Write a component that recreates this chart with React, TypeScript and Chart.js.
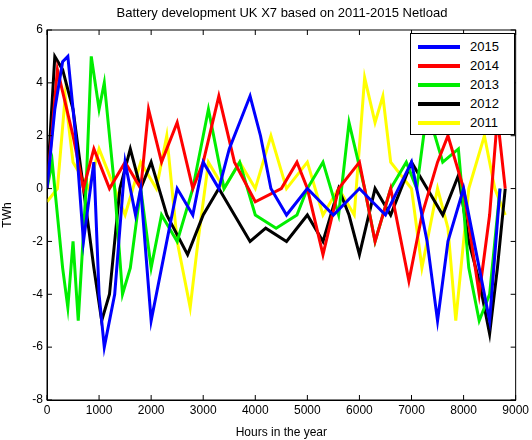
import React, { useEffect, useRef } from "react";
import { Chart, registerables } from "chart.js";
Chart.register(...registerables);

const labels = ["2015", "2014", "2013", "2012", "2011"];
const colors = ["#0000ff", "#ff0000", "#00ee00", "#000000", "#ffff00"];
const xTicks = [0, 1000, 2000, 3000, 4000, 5000, 6000, 7000, 8000, 9000];

const h2015 = [0,150,300,400,550,700,900,1000,1100,1300,1500,1700,1800,2000,2200,2500,2800,3000,3300,3500,3900,4100,4300,4600,5000,5500,6000,6500,7000,7300,7500,7700,8000,8300,8500,8700];
const v2015 = [0,3,4.8,5,2,-2,1,-4,-6,-4,1,-1,0,-5,-3,0,-1,1,0,1.5,3.5,2,0,-1,0,-1,0,-1,1,-2,-5,-2,0,-3,-5,0];
const h2014 = [0,200,500,700,900,1200,1500,1800,1950,2200,2500,2800,3000,3300,3600,4000,4500,4800,5000,5300,5600,6000,6300,6600,6950,7200,7500,7700,8000,8300,8500,8650,8800];
const v2014 = [0,4.5,2,0,1.5,0,1,0,3,1,2.5,0,1,3.5,1,-0.5,0,1,0,-2.5,0,1,-2,0,-3.5,-1,1,2,0,-4,-1,2.7,0];
const h2013 = [0,100,300,400,500,600,750,850,1000,1100,1300,1450,1600,1800,2000,2200,2500,2800,3000,3100,3400,3700,4000,4400,4800,5000,5300,5600,5800,6100,6300,6600,6900,7100,7300,7600,7900,8100,8300,8500,8700];
const v2013 = [0,1,-3,-4.5,-2,-5,0,5,3,4,0,-4,-3,0,-3,-1,-2,0,2,3,0,1,-1,-1.5,-1,0,1,-1,2.5,0,-2,0,1,0,3,1,1.5,-3,-5,-4,0];
const h2012 = [0,150,300,500,700,900,1050,1200,1400,1600,1800,2000,2300,2700,3000,3300,3600,3900,4200,4600,5000,5300,5600,5800,6000,6300,6600,7000,7300,7600,7900,8100,8300,8500,8650,8800];
const v2012 = [0,5,4.5,3,0,-3,-5,-4,0,1.5,0,1,-1,-2.5,-1,0,-1,-2,-1.5,-2,-1,-2,0,-1,-2.5,0,-1,1,0,-1,0.5,-2,-3.5,-5.5,-3,0];
const h2011 = [0,200,350,500,800,1000,1300,1500,1800,2100,2300,2500,2750,2900,3100,3400,3700,4000,4300,4600,5000,5300,5600,5900,6100,6300,6450,6600,7000,7200,7500,7700,7850,8100,8400,8600,8800];
const v2011 = [-0.5,0,3.5,1,0,1.5,0,-1,1,0,2,-2,-4.5,-2,1,0,1,0,2,0,1,-1,0,-1,4.2,2.5,3.5,1,0,-3,0,-1.5,-5,0,2,0,-1];

const hs = [h2015, h2014, h2013, h2012, h2011];
const vs = [v2015, v2014, v2013, v2012, v2011];

export default function App() {
  const ref = useRef<HTMLCanvasElement>(null);
  useEffect(() => {
    const boxPlugin = {
      id: "box",
      afterDraw(c: any) {
        const { ctx, chartArea: a, scales } = c;
        ctx.save();
        ctx.strokeStyle = "#000";
        ctx.lineWidth = 1;
        ctx.strokeRect(a.left, a.top, a.right - a.left, a.bottom - a.top);
        ctx.beginPath();
        for (const v of xTicks) {
          const x = scales.x.getPixelForValue(v);
          ctx.moveTo(x, a.bottom); ctx.lineTo(x, a.bottom - 5);
          ctx.moveTo(x, a.top); ctx.lineTo(x, a.top + 5);
        }
        for (let v = -8; v <= 6; v += 2) {
          const y = scales.y.getPixelForValue(v);
          ctx.moveTo(a.left, y); ctx.lineTo(a.left + 5, y);
          ctx.moveTo(a.right, y); ctx.lineTo(a.right - 5, y);
        }
        ctx.stroke();
        ctx.restore();
      },
    };
    const chart = new Chart(ref.current!, {
      type: "line",
      data: {
        datasets: labels.map((l, i) => ({
          label: l,
          data: hs[i].map((x, j) => ({ x, y: vs[i][j] })),
          borderColor: colors[i],
          borderWidth: 3,
          pointRadius: 0,
          tension: 0,
        })),
      },
      options: {
        animation: false,
        responsive: false,
        layout: { padding: { top: 30, right: 15, left: 0, bottom: 0 } },
        plugins: { legend: { display: false }, tooltip: { enabled: false } },
        scales: {
          x: {
            type: "linear", min: 0, max: 9000,
            afterBuildTicks: (s: any) => { s.ticks = xTicks.map((v) => ({ value: v })); },
            afterFit: (s: any) => { s.height = 40; },
            grid: { display: false, drawTicks: false },
            border: { color: "#000" },
            ticks: { color: "#000", font: { family: "Liberation Sans", size: 12 }, padding: 3, maxRotation: 0, callback: (v: any) => String(v) },
            title: { display: true, text: "Hours in the year", color: "#000", font: { family: "Liberation Sans", size: 12 }, padding: { top: 2, bottom: 0 } },
          },
          y: {
            min: -8, max: 6,
            ticks: { stepSize: 2, color: "#000", font: { family: "Liberation Sans", size: 12 }, padding: 4 },
            afterFit: (s: any) => { s.width = 47; },
            grid: { display: false, drawTicks: false },
            border: { color: "#000" },
            title: { display: true, text: "TWh", color: "#000", font: { family: "Liberation Sans", size: 12 }, padding: 0 },
          },
        },
      },
      plugins: [boxPlugin],
    } as any);
    return () => chart.destroy();
  }, []);
  return (
    <div style={{ position: "fixed", left: 0, top: 0, width: 532, height: 440, background: "#fff", fontFamily: "Liberation Sans" }}>
      <canvas ref={ref} width={532} height={440} />
      <div style={{ position: "absolute", top: 5, left: 47, width: 470, textAlign: "center", fontSize: 13 }}>
        Battery development UK X7 based on 2011-2015 Netload
      </div>
      <div style={{ position: "absolute", left: 410, top: 33, width: 103, height: 100, border: "1px solid #000", background: "#fff" }}>
        {labels.map((l, i) => (
          <div key={l} style={{ display: "flex", alignItems: "center", height: 19, marginTop: i === 0 ? 3 : 0 }}>
            <div style={{ width: 42, height: 4, background: colors[i], marginLeft: 7, marginRight: 10 }} />
            <span style={{ fontSize: 13 }}>{l}</span>
          </div>
        ))}
      </div>
    </div>
  );
}
